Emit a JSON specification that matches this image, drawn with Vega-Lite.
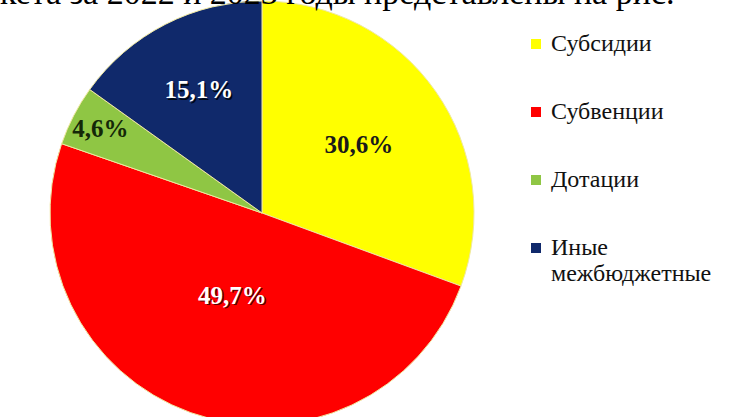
{
  "$schema": "https://vega.github.io/schema/vega-lite/v6.json",
  "width": 524,
  "height": 418,
  "autosize": {"type": "none"},
  "padding": {"top": 4, "left": 0, "right": 208, "bottom": 0},
  "background": "white",
  "view": {"stroke": null},
  "config": {
    "legend": {"labelFont": "Times New Roman", "labelFontSize": 23, "labelColor": "#111"}
  },
  "title": {
    "text": "кета за 2022 и 2023 годы представлены на рис.",
    "font": "Liberation Serif",
    "fontSize": 34,
    "fontWeight": "normal",
    "color": "#000",
    "anchor": "start",
    "offset": -12
  },
  "data": {
    "values": [
      {"cat": "Субсидии", "v": 30.6, "i": 1, "lbl": "30,6%"},
      {"cat": "Субвенции", "v": 49.7, "i": 2, "lbl": "49,7%"},
      {"cat": "Дотации", "v": 4.6, "i": 3, "lbl": "4,6%"},
      {"cat": "Иные межбюджетные", "v": 15.1, "i": 4, "lbl": "15,1%"}
    ]
  },
  "encoding": {
    "theta": {"field": "v", "type": "quantitative", "stack": true},
    "order": {"field": "i", "type": "quantitative"}
  },
  "layer": [
    {
      "mark": {"type": "arc", "outerRadius": 212, "stroke": "#efe8a0", "strokeWidth": 1},
      "encoding": {
        "color": {
          "field": "cat",
          "type": "nominal",
          "scale": {
            "domain": ["Субсидии", "Субвенции", "Дотации", "Иные межбюджетные"],
            "range": ["#FFFF00", "#FF0000", "#8FC644", "#10296B"]
          },
          "legend": {
            "orient": "none",
            "legendX": 524,
            "legendY": 28,
            "title": null,
            "symbolType": "square",
            "symbolSize": 100,
            "symbolStrokeWidth": 0,
            "labelFont": "Times New Roman",
            "labelFontSize": 24,
            "labelColor": "#111",
            "labelLimit": 300,
            "rowPadding": 44,
            "labelOffset": 3,
            "labelExpr": "datum.label == 'Иные межбюджетные' ? ['Иные', 'межбюджетные'] : datum.label"
          }
        }
      }
    },
    {
      "mark": {"type": "text", "radius": 118, "font": "Liberation Serif", "fontSize": 25, "fontWeight": "bold", "color": "#1a1a1a"},
      "encoding": {"text": {"condition": {"test": "datum.cat == 'Субсидии'", "field": "lbl"}, "value": ""}}
    },
    {
      "mark": {"type": "text", "radius": 88, "font": "Liberation Serif", "fontSize": 25, "fontWeight": "bold", "color": "#5a0000", "dx": 1.5, "dy": 1.5},
      "encoding": {"text": {"condition": {"test": "datum.cat == 'Субвенции'", "field": "lbl"}, "value": ""}}
    },
    {
      "mark": {"type": "text", "radius": 88, "font": "Liberation Serif", "fontSize": 25, "fontWeight": "bold", "color": "white"},
      "encoding": {"text": {"condition": {"test": "datum.cat == 'Субвенции'", "field": "lbl"}, "value": ""}}
    },
    {
      "mark": {"type": "text", "radius": 182, "font": "Liberation Serif", "fontSize": 25, "fontWeight": "bold", "color": "#142808"},
      "encoding": {"text": {"condition": {"test": "datum.cat == 'Дотации'", "field": "lbl"}, "value": ""}}
    },
    {
      "mark": {"type": "text", "radius": 138, "font": "Liberation Serif", "fontSize": 25, "fontWeight": "bold", "color": "#000814", "dx": 1.5, "dy": 1.5},
      "encoding": {"text": {"condition": {"test": "datum.cat == 'Иные межбюджетные'", "field": "lbl"}, "value": ""}}
    },
    {
      "mark": {"type": "text", "radius": 138, "font": "Liberation Serif", "fontSize": 25, "fontWeight": "bold", "color": "white"},
      "encoding": {"text": {"condition": {"test": "datum.cat == 'Иные межбюджетные'", "field": "lbl"}, "value": ""}}
    }
  ]
}
